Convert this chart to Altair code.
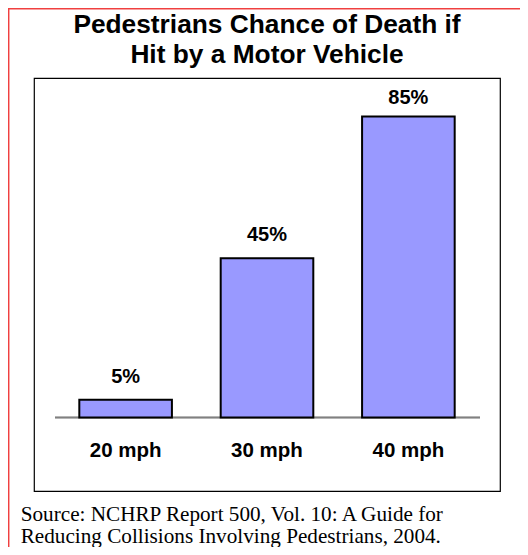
import altair as alt
import pandas as pd

# ---- data ----
speeds = ["20 mph", "30 mph", "40 mph"]
death_pct = [5, 45, 85]
value_labels = ["5%", "45%", "85%"]
title_lines = ["Pedestrians Chance of Death if", "Hit by a Motor Vehicle"]
source_lines = ["Source: NCHRP Report 500, Vol. 10: A Guide for",
                "Reducing Collisions Involving Pedestrians, 2004."]

df = pd.DataFrame({"speed": speeds, "pct": death_pct, "label": value_labels})
one = pd.DataFrame({"k": [0]})

SANS = "Arial, Liberation Sans, Helvetica, sans-serif"
SERIF = "Times New Roman, Liberation Serif, serif"

W, H = 466, 413
xscale = alt.Scale(domain=speeds, paddingInner=0.345, paddingOuter=0.3205)
yscale = alt.Scale(domain=[-20.76, 95.9], nice=False, zero=False)

base = alt.Chart(df)

baseline = base.mark_rule(color="#808080", strokeWidth=1.5).encode(
    x=alt.value(21), x2=alt.value(446),
    y=alt.Y("zero:Q", scale=yscale, axis=None),
).transform_calculate(zero="0")

bars = base.mark_bar(fill="#9999ff", stroke="#000000", strokeWidth=2).encode(
    x=alt.X("speed:N", scale=xscale, axis=None, sort=speeds),
    y=alt.Y("pct:Q", scale=yscale, axis=None),
    y2=alt.datum(0),
)

def value_text(dy):
    return base.mark_text(font=SANS, fontWeight="bold", fontSize=20, baseline="alphabetic",
                          dy=dy, color="#000000").encode(
        x=alt.X("speed:N", scale=xscale, axis=None, sort=speeds),
        y=alt.Y("pct:Q", scale=yscale, axis=None),
        text="label:N",
    )

# labels near the top of the plot box sit a little closer to their bar
values_low = value_text(-17).transform_filter("datum.pct < 80")
values_high = value_text(-12.7).transform_filter("datum.pct >= 80")

xlabels = base.mark_text(font=SANS, fontWeight="bold", fontSize=20.5, baseline="alphabetic",
                         color="#000000").encode(
    x=alt.X("speed:N", scale=xscale, axis=None, sort=speeds),
    y=alt.value(379.3),
    text="speed:N",
)

def text_line(txt, font, size, weight, align, x, y):
    return alt.Chart(one).mark_text(text=txt, font=font, fontSize=size, fontWeight=weight,
                                    baseline="alphabetic", align=align,
                                    color="#000000").encode(x=alt.value(x), y=alt.value(y))

title1 = text_line(title_lines[0], SANS, 26.3, "bold", "center", W / 2, -44.7)
title2 = text_line(title_lines[1], SANS, 26.3, "bold", "center", W / 2, -14.7)
source1 = text_line(source_lines[0], SERIF, 21.2, "normal", "left", -13.3, 443.3)
source2 = text_line(source_lines[1], SERIF, 21.2, "normal", "left", -13.3, 464.9)

red_top = alt.Chart(one).mark_rule(color="#f04040", strokeWidth=1.5).encode(
    x=alt.value(-26), x2=alt.value(494), y=alt.value(-69.3)
)
red_left = alt.Chart(one).mark_rule(color="#f04040", strokeWidth=1.5).encode(
    x=alt.value(-25.3), y=alt.value(-70), y2=alt.value(477)
)

chart = alt.layer(red_top, red_left, baseline, bars, values_low, values_high, xlabels,
                  title1, title2, source1, source2).properties(
    width=W, height=H,
    autosize=alt.AutoSizeParams(type="none"),
    padding={"left": 26, "top": 70, "right": 20, "bottom": 56},
    background="#ffffff",
).configure_view(stroke="#000000", strokeWidth=1.2)

chart.save("out.html", embed_options={"renderer": "svg", "actions": False})
